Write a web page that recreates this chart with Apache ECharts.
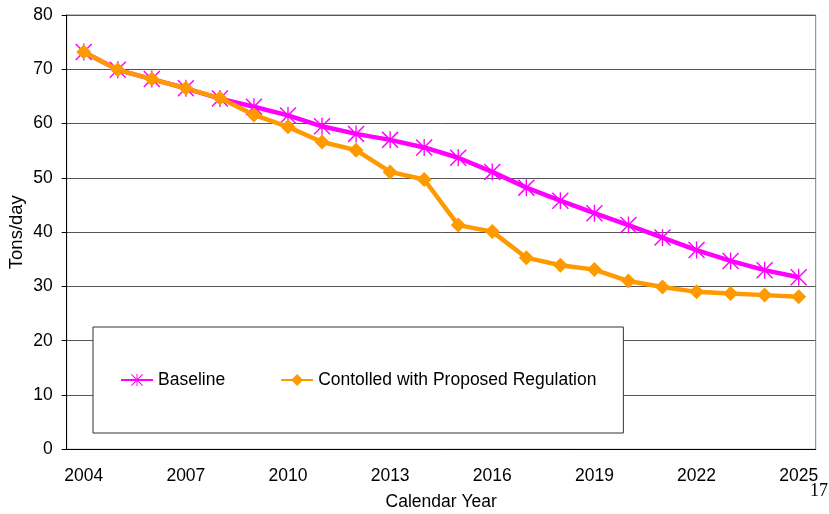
<!DOCTYPE html>
<html>
<head>
<meta charset="utf-8">
<script src="https://cdn.jsdelivr.net/npm/echarts@6/dist/echarts.min.js"></script>
<style>
  html, body { margin: 0; padding: 0; background: #fff; }
  #chart { width: 829px; height: 514px; }
</style>
</head>
<body>
<div id="chart"></div>
<script>
// Emissions projection, tons per day by calendar year
const years = ['2004','2005','2006','2007','2008','2009','2010','2011','2012','2013','2014',
               '2015','2016','2017','2018','2019','2020','2021','2022','2023','2024','2025'];
const baseline = [73.2, 69.9, 68.2, 66.5, 64.6, 63.1, 61.5, 59.5, 58.1, 57.0, 55.6,
                  53.7, 51.1, 48.2, 45.8, 43.5, 41.3, 39.0, 36.7, 34.7, 33.0, 31.7];
const controlled = [73.2, 69.9, 68.2, 66.5, 64.7, 61.6, 59.4, 56.6, 55.1, 51.1, 49.7,
                    41.3, 40.1, 35.3, 33.9, 33.1, 31.0, 29.9, 29.0, 28.7, 28.4, 28.1];
const seriesNames = ['Baseline', 'Contolled with Proposed Regulation'];
const yTicks = { min: 0, max: 80, step: 10 };

// six-spoke asterisk marker (vertical bar plus two diagonals)
const asterisk = 'path://M46,0 L54,0 L54,100 L46,100 Z ' +
                 'M0,6 L6,0 L100,94 L94,100 Z ' +
                 'M94,0 L100,6 L6,100 L0,94 Z';

const font = 'Arial, "Liberation Sans", sans-serif';
const chart = echarts.init(document.getElementById('chart'), null, { renderer: 'canvas' });

chart.setOption({
  animation: false,
  backgroundColor: '#ffffff',
  grid: {
    left: 66.7, right: 13.3, top: 15, bottom: 64.7,
    containLabel: false,
    outerBoundsMode: 'none',
    show: true, borderColor: '#808080', borderWidth: 1, backgroundColor: 'transparent'
  },
  legend: {
    left: 93, top: 327,
    padding: [44, 27, 44, 27],
    backgroundColor: '#ffffff',
    borderColor: '#333333', borderWidth: 1,
    itemWidth: 32, itemHeight: 15, itemGap: 55,
    textStyle: { fontFamily: font, fontSize: 17.5, color: '#000' },
    data: seriesNames
  },
  xAxis: {
    type: 'category',
    data: years,
    boundaryGap: true,
    name: 'Calendar Year',
    nameLocation: 'middle',
    nameGap: 44,
    nameMoveOverlap: false,
    nameTextStyle: { fontFamily: font, fontSize: 17.5, color: '#000' },
    axisLine: { lineStyle: { color: '#000', width: 1 } },
    axisTick: { interval: 0, length: 5, lineStyle: { color: '#000' } },
    axisLabel: { interval: 2, margin: 18, fontFamily: font, fontSize: 17.5, color: '#000' },
    splitLine: { show: false }
  },
  yAxis: {
    type: 'value',
    min: yTicks.min, max: yTicks.max, interval: yTicks.step,
    name: 'Tons/day',
    nameLocation: 'middle',
    nameGap: 40,
    nameMoveOverlap: false,
    nameTextStyle: { fontFamily: font, fontSize: 18.5, color: '#000' },
    axisLine: { show: true, lineStyle: { color: '#000', width: 1 } },
    axisTick: { show: true, length: 5, lineStyle: { color: '#000' } },
    axisLabel: { margin: 14, fontFamily: font, fontSize: 17.5, color: '#000' },
    splitLine: { show: true, lineStyle: { color: '#555555', width: 1 } }
  },
  series: [
    {
      name: seriesNames[0],
      type: 'line',
      data: baseline,
      symbol: asterisk,
      symbolSize: 17,
      symbolKeepAspect: true,
      color: '#FF00FF',
      lineStyle: { color: '#FF00FF', width: 4.5 },
      itemStyle: { color: '#FF00FF' },
      z: 2
    },
    {
      name: seriesNames[1],
      type: 'line',
      data: controlled,
      symbol: 'diamond',
      symbolSize: 15,
      color: '#FF9900',
      lineStyle: { color: '#FF9900', width: 4.5 },
      itemStyle: { color: '#FF9900' },
      z: 3
    }
  ],
  graphic: [
    {
      type: 'text',
      left: 810, top: 482,
      style: { text: '17', font: '18px "Liberation Serif", "Times New Roman", serif', fill: '#000' }
    }
  ]
});
</script>
</body>
</html>
